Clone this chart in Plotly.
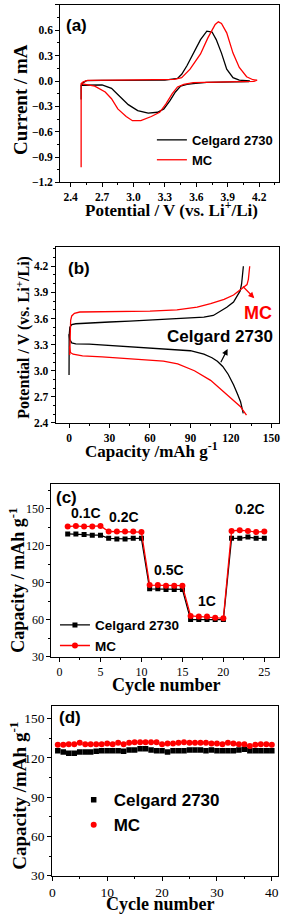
import plotly.graph_objects as go

W, H = 286, 923
RED = "#ff0000"
SERIF = "Liberation Serif"
SANS = "Liberation Sans"

# ---------------- data ----------------
# (a) cyclic voltammetry
cv_celgard_v = [2.50, 2.50, 2.52, 2.55, 2.70, 3.00, 3.30, 3.42, 3.46, 3.51, 3.57, 3.64, 3.70, 3.75,
                3.79, 3.84, 3.89, 3.95, 4.01, 4.11, 4.10, 3.90, 3.70, 3.57, 3.51, 3.45, 3.40, 3.35,
                3.29, 3.23, 3.14, 3.04, 2.95, 2.85, 2.79, 2.70, 2.60, 2.51, 2.50]
cv_celgard_i = [-0.22, -0.05, -0.02, 0.005, 0.008, 0.010, 0.010, 0.03, 0.08, 0.18, 0.33, 0.49, 0.59, 0.58,
                0.49, 0.33, 0.14, 0.04, 0.01, 0.00, -0.008, -0.012, -0.015, -0.03, -0.04, -0.06, -0.13, -0.23,
                -0.33, -0.37, -0.38, -0.35, -0.28, -0.16, -0.086, -0.047, -0.045, -0.047, -0.05]
cv_mc_v = [2.50, 2.50, 2.52, 2.56, 2.80, 3.10, 3.39, 3.46, 3.54, 3.64, 3.71, 3.78, 3.81, 3.84,
           3.89, 3.95, 4.01, 4.08, 4.14, 4.18, 4.15, 3.90, 3.70, 3.57, 3.48, 3.42, 3.37, 3.31,
           3.25, 3.17, 3.07, 2.99, 2.93, 2.85, 2.79, 2.73, 2.63, 2.51, 2.50]
cv_mc_i = [-1.02, -0.03, -0.01, 0.008, 0.010, 0.012, 0.02, 0.04, 0.14, 0.32, 0.51, 0.67, 0.70, 0.68,
           0.57, 0.33, 0.16, 0.05, 0.015, 0.01, -0.005, -0.01, -0.012, -0.02, -0.04, -0.07, -0.15, -0.27,
           -0.37, -0.42, -0.47, -0.47, -0.42, -0.33, -0.21, -0.13, -0.06, -0.035, -0.03]

# (b) charge / discharge profiles
celgard_chg_cap = [0, 0, 0.1, 0.6, 2, 5, 15, 30, 45, 60, 75, 90, 100, 107, 112, 117, 122, 125, 127, 128, 128.8, 129.3]
celgard_chg_v = [2.95, 3.20, 3.40, 3.50, 3.53, 3.54, 3.55, 3.56, 3.57, 3.58, 3.59, 3.60, 3.615, 3.635, 3.68,
                 3.73, 3.79, 3.86, 3.92, 4.00, 4.10, 4.20]
celgard_dis_cap = [0, 0.5, 2, 5, 15, 30, 45, 60, 75, 90, 100, 106, 110, 114, 118, 122, 125, 127.2, 129.2]
celgard_dis_v = [3.42, 3.36, 3.32, 3.31, 3.305, 3.29, 3.275, 3.26, 3.25, 3.23, 3.19, 3.15, 3.11, 3.05,
                 2.96, 2.84, 2.73, 2.645, 2.51]
mc_chg_cap = [0.5, 0.6, 0.8, 1.2, 2, 4, 8, 30, 60, 80, 95, 105, 115, 122, 127, 130, 132, 133, 133.5, 134]
mc_chg_v = [3.18, 3.30, 3.45, 3.58, 3.63, 3.66, 3.675, 3.68, 3.685, 3.70, 3.73, 3.77, 3.82, 3.87, 3.93,
            3.965, 3.99, 4.05, 4.12, 4.20]
mc_dis_cap = [0.3, 1, 3, 10, 24.5, 40, 56, 70, 80.6, 93, 105, 117, 127, 131.6]
mc_dis_v = [3.28, 3.21, 3.19, 3.17, 3.16, 3.145, 3.13, 3.11, 3.08, 3.00, 2.89, 2.72, 2.59, 2.49]

# (c) rate capability
rate_cycles = list(range(1, 26))
rate_celgard = [129.5, 129.5, 129, 128.5, 128.5, 126, 125.5, 125.5, 126, 126,
                85, 85, 84.5, 84.5, 84.5, 60, 60, 60, 60, 60,
                126, 126, 127, 126, 126]
rate_mc = [135.5, 136, 135.5, 135.5, 136, 131.5, 131.5, 131.5, 131.5, 131,
           88, 88, 87.5, 87.5, 87.5, 63, 62.5, 62.5, 61.5, 61,
           132, 132.5, 132, 131, 131.5]
rate_labels = ["0.1C", "0.2C", "0.5C", "1C", "0.2C"]
rate_label_x = [3.2, 7.9, 13.4, 18.0, 23.2]
rate_label_y = [146.6, 143.0, 100.4, 74.7, 149.4]

# (d) cycling
cyc_cycles = list(range(1, 41))
cyc_celgard = [125.5, 124.5, 123.5, 123.5, 124.5, 124.5, 124.5, 125, 125.5, 125.5,
               125.5, 125.5, 125, 126, 126, 127, 127, 126, 125.5, 125.5,
               124.5, 125.5, 125.5, 125.5, 126, 126, 126, 125.5, 126, 125.5,
               125.5, 125.5, 125.5, 126, 126.5, 125.5, 125.5, 125.5, 125.5, 125.5]
cyc_mc = [130, 130, 130.5, 130.5, 131.5, 130.5, 130.5, 130.5, 130.5, 131,
          130.5, 131.5, 130.5, 131.5, 132, 132, 132, 132, 132, 130.5,
          131, 131, 131.5, 132, 131.5, 131.5, 131.5, 131.5, 131, 131,
          130.5, 131.5, 131, 130.5, 130.5, 129, 130, 130.5, 130.5, 130]

# ---------------- figure ----------------
def px_x(px):
    return px / W

def px_y(py):
    return 1 - py / H

fig = go.Figure()

# (a)
fig.add_trace(go.Scatter(x=cv_celgard_v, y=cv_celgard_i, mode="lines", name="Celgard 2730",
                         line=dict(color="black", width=1.3), xaxis="x", yaxis="y", legend="legend"))
fig.add_trace(go.Scatter(x=cv_mc_v, y=cv_mc_i, mode="lines", name="MC",
                         line=dict(color=RED, width=1.3), xaxis="x", yaxis="y", legend="legend"))
# (b)
fig.add_trace(go.Scatter(x=celgard_chg_cap, y=celgard_chg_v, mode="lines", showlegend=False,
                         line=dict(color="black", width=1.3), xaxis="x2", yaxis="y2"))
fig.add_trace(go.Scatter(x=celgard_dis_cap, y=celgard_dis_v, mode="lines", showlegend=False,
                         line=dict(color="black", width=1.3), xaxis="x2", yaxis="y2"))
fig.add_trace(go.Scatter(x=mc_chg_cap, y=mc_chg_v, mode="lines", showlegend=False,
                         line=dict(color=RED, width=1.3), xaxis="x2", yaxis="y2"))
fig.add_trace(go.Scatter(x=mc_dis_cap, y=mc_dis_v, mode="lines", showlegend=False,
                         line=dict(color=RED, width=1.3), xaxis="x2", yaxis="y2"))
# (c)
fig.add_trace(go.Scatter(x=rate_cycles, y=rate_celgard, mode="lines+markers", name="Celgard 2730",
                         line=dict(color="black", width=1.3), marker=dict(symbol="square", size=5, color="black"),
                         xaxis="x3", yaxis="y3", legend="legend3"))
fig.add_trace(go.Scatter(x=rate_cycles, y=rate_mc, mode="lines+markers", name="MC",
                         line=dict(color=RED, width=1.3), marker=dict(symbol="circle", size=6, color=RED),
                         xaxis="x3", yaxis="y3", legend="legend3"))
# (d)
fig.add_trace(go.Scatter(x=cyc_cycles, y=cyc_celgard, mode="markers", name="Celgard 2730",
                         marker=dict(symbol="square", size=5.5, color="black"),
                         xaxis="x4", yaxis="y4", legend="legend4"))
fig.add_trace(go.Scatter(x=cyc_cycles, y=cyc_mc, mode="markers", name="MC",
                         marker=dict(symbol="circle", size=6, color=RED),
                         xaxis="x4", yaxis="y4", legend="legend4"))


def axis(dom, rng, tick0, dtick, mdtick, font, anchor, fmt=None):
    d = dict(domain=dom, range=rng, tick0=tick0, dtick=dtick, anchor=anchor,
             showline=True, linecolor="black", linewidth=1, mirror=True,
             ticks="outside", ticklen=4, tickwidth=1, tickcolor="black",
             showgrid=False, zeroline=False, tickfont=font,
             minor=dict(dtick=mdtick, tick0=tick0, ticks="outside", ticklen=2, tickcolor="black", showgrid=False))
    if fmt:
        d["tickformat"] = fmt
    return d

tf_ab = dict(family=SERIF, size=11.5, color="black", weight="bold")
tf_c = dict(family=SERIF, size=12, color="black")
tf_d = dict(family=SERIF, size=13.5, color="black")

layout = dict(
    width=W, height=H, margin=dict(l=0, r=0, t=0, b=0),
    paper_bgcolor="white", plot_bgcolor="white",
    xaxis=axis([px_x(58), px_x(280)], [2.3, 4.39], 2.4, 0.3, 0.15, tf_ab, "y", ".1f"),
    yaxis=axis([px_y(184), px_y(5)], [-1.2, 0.9], -1.2, 0.3, 0.15, tf_ab, "x", ".1f"),
    xaxis2=axis([px_x(53.3), px_x(280.3)], [-10, 156], 0, 30, 15, tf_ab, "y2"),
    yaxis2=axis([px_y(426.7), px_y(249.3)], [2.4, 4.42], 2.4, 0.3, 0.1, tf_ab, "x2", ".1f"),
    xaxis3=axis([px_x(49), px_x(280)], [-1, 26.8], 0, 5, 2.5, tf_c, "y3"),
    yaxis3=axis([px_y(662.3), px_y(488.3)], [30, 170], 30, 30, 15, tf_c, "x3"),
    xaxis4=axis([px_x(50), px_x(279.3)], [0, 41.2], 0, 10, 5, tf_d, "y4"),
    yaxis4=axis([px_y(883.3), px_y(711.7)], [30, 160], 30, 30, 15, tf_d, "x4"),
    legend=dict(x=px_x(151), y=px_y(126), xanchor="left", yanchor="top", bgcolor="rgba(0,0,0,0)",
                font=dict(family=SANS, size=13, color="black", weight="bold"), tracegroupgap=0,
                itemclick=False),
    legend3=dict(x=px_x(52.7), y=px_y(615), xanchor="left", yanchor="top", bgcolor="rgba(0,0,0,0)",
                 font=dict(family=SANS, size=13.5, color="black", weight="bold"), itemclick=False),
    legend4=dict(x=px_x(71.7), y=px_y(789), xanchor="left", yanchor="top", bgcolor="rgba(0,0,0,0)",
                 font=dict(family=SANS, size=17, color="black", weight="bold"), itemclick=False),
)
fig.update_layout(**layout)

ann = []
def txt(text, x, y, size, family=SERIF, color="black", angle=0, weight="bold"):
    ann.append(dict(text=text, x=px_x(x), y=px_y(y), xref="paper", yref="paper", showarrow=False,
                    xanchor="center", yanchor="middle", textangle=angle,
                    font=dict(family=family, size=size, color=color, weight=weight)))

# axis titles
txt("Potential / V (vs. Li<sup>+</sup>/Li)", 170.5, 211, 17)
txt("Current / mA", 17, 100, 19, angle=-90)
txt("Capacity /mAh g<sup>-1</sup>", 151, 454, 17)
txt("Potential / V (vs. Li<sup>+</sup>/Li)", 20, 340, 16, angle=-90)
txt("Cycle number", 165, 691, 18)
txt("Capacity / mAh g<sup>-1</sup>", 15, 585, 18, angle=-90)
txt("Cycle number", 159, 912, 18)
txt("Capacity /mAh g<sup>-1</sup>", 15, 803, 19, angle=-90)
# panel labels
txt("(a)", 75, 26, 17, family=SANS)
txt("(b)", 77, 271, 17, family=SANS)
txt("(c)", 64, 501.5, 17, family=SANS)
txt("(d)", 68, 724, 17, family=SANS)

# (b) labels with arrows
ann.append(dict(text="MC", x=140, y=3.66, xref="x2", yref="y2", showarrow=False, xanchor="center",
                font=dict(family=SANS, size=18, color=RED, weight="bold")))
ann.append(dict(text="", x=137.4, y=3.834, ax=127.9, ay=3.985, xref="x2", yref="y2", axref="x2", ayref="y2",
                showarrow=True, arrowhead=2, arrowsize=1, arrowwidth=1.2, arrowcolor=RED))
ann.append(dict(text="Celgard 2730", x=px_x(220), y=px_y(339), xref="paper", yref="paper", showarrow=False,
                xanchor="center", yanchor="middle",
                font=dict(family=SANS, size=17, color="black", weight="bold")))
ann.append(dict(text="", x=117.6, y=3.25, ax=112, ay=3.08, xref="x2", yref="y2", axref="x2", ayref="y2",
                showarrow=True, arrowhead=2, arrowsize=1, arrowwidth=1.2, arrowcolor="black"))
# (c) rate labels
for t, lx, ly in zip(rate_labels, rate_label_x, rate_label_y):
    ann.append(dict(text=t, x=lx, y=ly, xref="x3", yref="y3", showarrow=False, xanchor="center",
                    font=dict(family=SANS, size=14, color="black", weight="bold")))

fig.update_layout(annotations=ann)
fig.write_html("out.html", config={"responsive": False, "displayModeBar": False},
               post_script="document.body.style.margin='0px';document.body.style.overflow='hidden';"
                           "document.documentElement.style.overflow='hidden';")
